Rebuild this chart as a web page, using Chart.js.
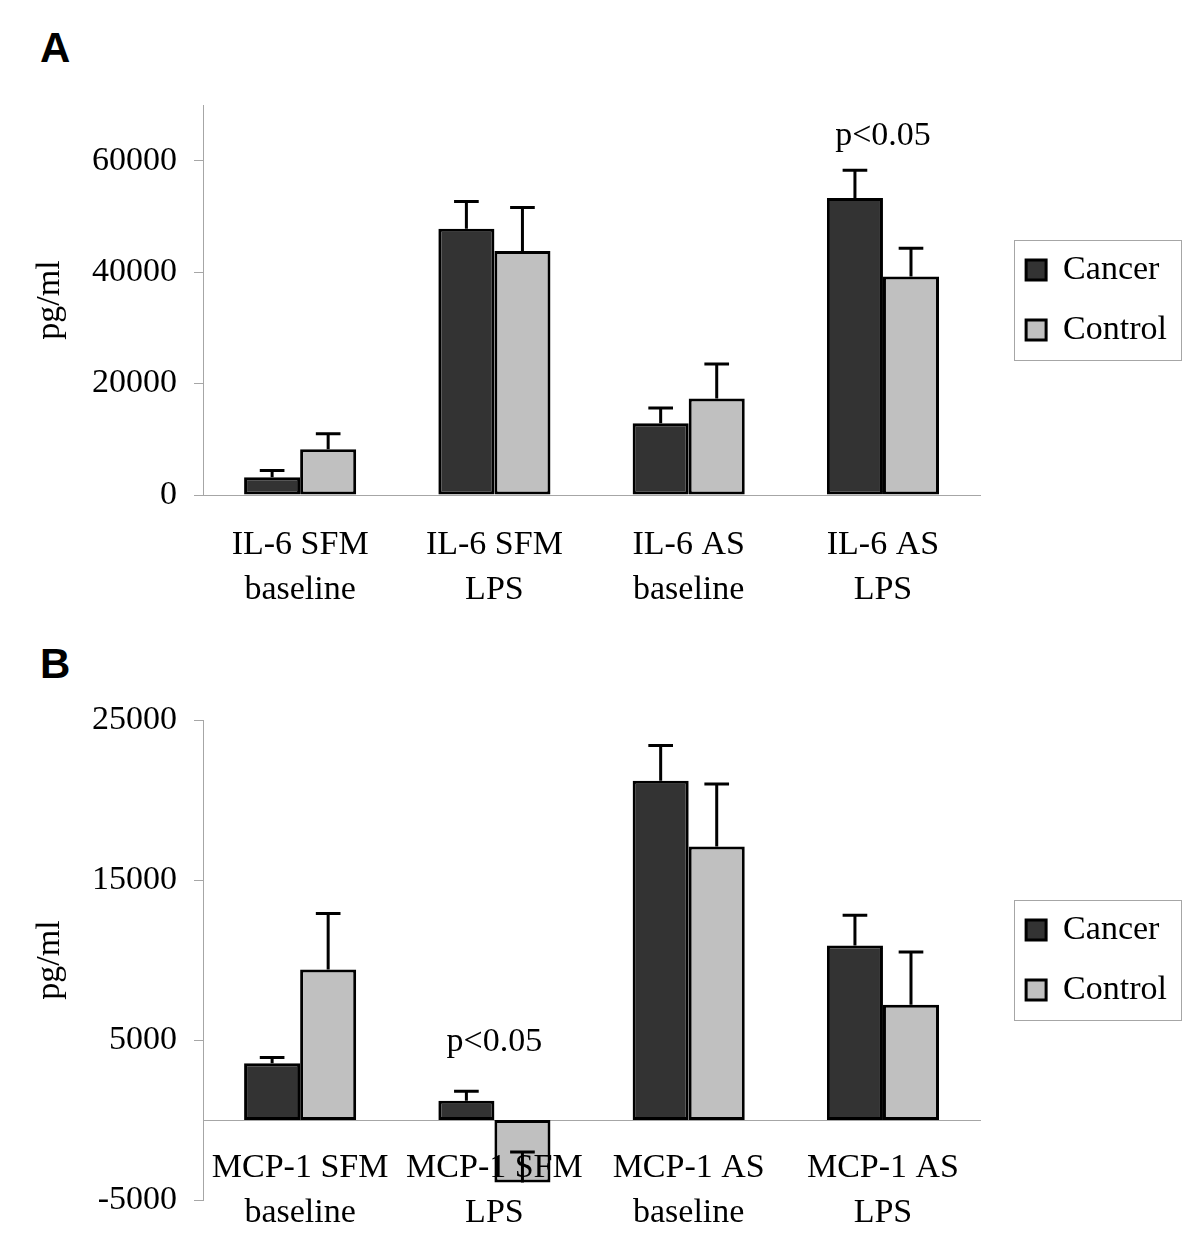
<!DOCTYPE html>
<html>
<head>
<meta charset="utf-8">
<script src="https://cdn.jsdelivr.net/npm/chart.js@4.4.1/dist/chart.umd.min.js"></script>
<style>
  body { margin: 0; background: #fff; }
  #page { position: relative; width: 1200px; height: 1259px; }
  .panel { position: absolute; left: 0; width: 1200px; }
  .tag { position: absolute; left: 40px; font: bold 42px "Liberation Sans", Arial, sans-serif; line-height: 42px; color: #000; }
</style>
</head>
<body>
<div id="page">
  <div class="tag" style="top:27px">A</div>
  <div class="panel" style="top:0; height:620px"><canvas id="chartA"></canvas></div>
  <div class="tag" style="top:643px">B</div>
  <div class="panel" style="top:620px; height:639px"><canvas id="chartB"></canvas></div>
</div>
<script>
// Panel A - IL-6
const categoriesA = [["IL-6 SFM", "baseline"], ["IL-6 SFM", "LPS"], ["IL-6 AS", "baseline"], ["IL-6 AS", "LPS"]];
const cancerA = [3200, 47800, 12900, 53300];
const cancerErrA = [1200, 4900, 2700, 5000];
const controlA = [8200, 43800, 17300, 39200];
const controlErrA = [2800, 7800, 6200, 5100];
const yTicksA = [0, 20000, 40000, 60000];
const noteA = { index: 3, value: 64500, text: "p<0.05" };

// Panel B - MCP-1
const categoriesB = [["MCP-1 SFM", "baseline"], ["MCP-1 SFM", "LPS"], ["MCP-1 AS", "baseline"], ["MCP-1 AS", "LPS"]];
const cancerB = [3550, 1200, 21200, 10900];
const cancerErrB = [350, 600, 2200, 1900];
const controlB = [9400, -3900, 17100, 7200];
const controlErrB = [3500, 1900, 3900, 3300];
const yTicksB = [-5000, 5000, 15000, 25000];
const noteB = { index: 1, value: 4900, text: "p<0.05" };

const serif = "'Liberation Serif', 'Times New Roman', serif";
const axisGray = "#a6a6a6";

// error bars (plus side only), p-value note and the legend frame
function extrasPlugin(errors, note) {
    return {
        id: "extras",
        afterDatasetsDraw(chart) {
            const ctx = chart.ctx;
            const y = chart.scales.y;
            ctx.save();
            ctx.strokeStyle = "#000";
            ctx.lineWidth = 3;
            errors.forEach((errs, di) => {
                chart.getDatasetMeta(di).data.forEach((bar, i) => {
                    const v = chart.data.datasets[di].data[i];
                    const y0 = y.getPixelForValue(v);
                    const y1 = y.getPixelForValue(v + errs[i]);
                    const half = bar.width * 0.22;
                    ctx.beginPath();
                    ctx.moveTo(bar.x, y0);
                    ctx.lineTo(bar.x, y1);
                    ctx.moveTo(bar.x - half, y1);
                    ctx.lineTo(bar.x + half, y1);
                    ctx.stroke();
                });
            });
            ctx.restore();
        },
        afterDraw(chart) {
            const ctx = chart.ctx;
            ctx.save();
            ctx.fillStyle = "#000";
            ctx.font = "34px " + serif;
            ctx.textAlign = "center";
            ctx.textBaseline = "middle";
            ctx.fillText(note.text, chart.scales.x.getPixelForValue(note.index), chart.scales.y.getPixelForValue(note.value));

            // frame round the legend items
            const boxes = chart.legend.legendHitBoxes;
            if (boxes && boxes.length) {
                const l = Math.min(...boxes.map(b => b.left));
                const t = Math.min(...boxes.map(b => b.top));
                const r = Math.max(...boxes.map(b => b.left + b.width));
                const bt = Math.max(...boxes.map(b => b.top + b.height));
                ctx.strokeStyle = axisGray;
                ctx.lineWidth = 1;
                ctx.strokeRect(Math.round(l - 12) + 0.5, Math.round(t - 13) + 0.5, Math.round(r - l + 26), Math.round(bt - t + 26));
            }
            ctx.restore();
        }
    };
}

function makeChart(id, cats, cancer, cancerErr, control, controlErr, ticks, yMin, yMax, note, pad, labelPad) {
    return new Chart(document.getElementById(id), {
        type: "bar",
        data: {
            labels: cats,
            datasets: [
                { label: "Cancer", data: cancer, backgroundColor: "#333333", borderColor: "#000", borderWidth: 3, borderSkipped: false },
                { label: "Control", data: control, backgroundColor: "#c0c0c0", borderColor: "#000", borderWidth: 3, borderSkipped: false }
            ]
        },
        options: {
            responsive: true,
            maintainAspectRatio: false,
            animation: false,
            layout: { padding: pad },
            datasets: { bar: { categoryPercentage: 0.577, barPercentage: 1 } },
            plugins: {
                tooltip: { enabled: false },
                legend: {
                    position: "right",
                    align: "center",
                    labels: { boxWidth: 20, boxHeight: 20, padding: 26, color: "#000", font: { family: serif, size: 34 } }
                }
            },
            scales: {
                x: {
                    position: { y: 0 },
                    grid: { display: false, drawTicks: false },
                    border: { display: true, color: axisGray, width: 1 },
                    ticks: { z: 1, color: "#000", padding: labelPad, maxRotation: 0, autoSkip: false, font: { family: serif, size: 34, lineHeight: 1.32 } }
                },
                y: {
                    min: yMin,
                    max: yMax,
                    afterBuildTicks: s => { s.ticks = ticks.map(v => ({ value: v })); },
                    afterFit: s => { s.width = 203; },
                    grid: { drawOnChartArea: false, drawTicks: true, tickLength: 9, color: axisGray },
                    border: { display: true, color: axisGray, width: 1 },
                    ticks: { color: "#000", padding: 17, callback: v => String(v), font: { family: serif, size: 34 } },
                    title: { display: true, text: "pg/ml", color: "#000", padding: { top: 30, bottom: 0 }, font: { family: serif, size: 34 } }
                },
                spacer: {
                    position: "right",
                    grid: { display: false },
                    border: { display: false },
                    ticks: { display: false },
                    afterFit: s => { s.width = 20; }
                }
            }
        },
        plugins: [extrasPlugin([cancerErr, controlErr], note)]
    });
}

makeChart("chartA", categoriesA, cancerA, cancerErrA, controlA, controlErrA, yTicksA, 0, 70000, noteA,
    { top: 105, bottom: 125, left: 0, right: 23 }, 28);
makeChart("chartB", categoriesB, cancerB, cancerErrB, controlB, controlErrB, yTicksB, -5000, 25000, noteB,
    { top: 100, bottom: 59, left: 0, right: 23 }, 26);
</script>
</body>
</html>
